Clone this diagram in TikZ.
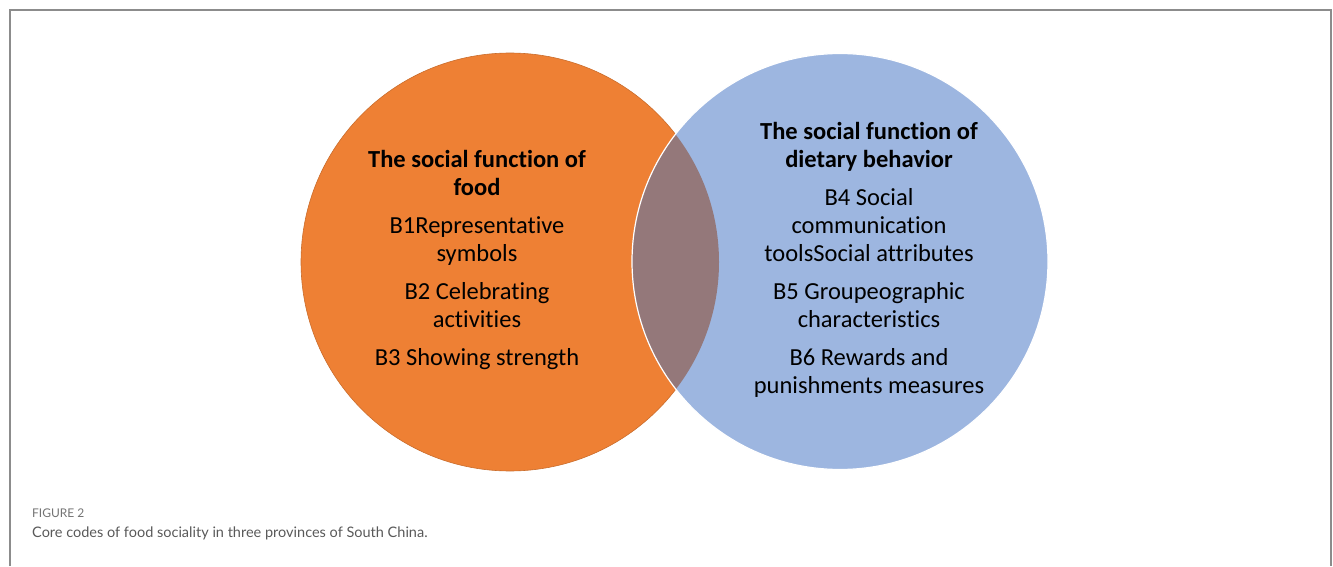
\documentclass[tikz,border=0pt]{standalone}
\usepackage{fontspec}
\setmainfont{Carlito}[Ligatures=NoCommon]
\newfontfamily\capfont{Lato}
\usetikzlibrary{positioning}

\definecolor{foodorange}{RGB}{238,128,52}
\definecolor{dietblue}{RGB}{157,182,224}
\definecolor{overlap}{RGB}{148,120,122}
\definecolor{framegray}{RGB}{140,140,140}

\begin{document}
\begin{tikzpicture}[x=1pt,y=1pt,
  set node/.style={circle,inner sep=0pt},
  code text/.style={align=center,font=\fontsize{24.5}{28}\selectfont},
  caption/.style={inner sep=0pt,font=\capfont}]

  \useasboundingbox (0,0) rectangle (1333,566);
  \draw[framegray,line width=1.2pt] (10,0) -- (10,556) -- (1331,556) -- (1331,0);

  \node[set node,minimum size=418pt,fill=foodorange,draw=foodorange!85!black,line width=0.6pt] (food) at (510,304) {};
  \node[set node,minimum size=416pt,fill=dietblue] (diet) at (840,304.5) {};
  \begin{scope}
    \clip (food.center) circle (209pt);
    \fill[overlap] (diet.center) circle (208pt);
  \end{scope}
  \draw[white,line width=1.2pt] (diet.center) circle (208pt);

  \node[code text] (foodcodes) at (477,306)
    {\textbf{The social function of}\\\textbf{food}\\[10pt]
     B1Representative\\symbols\\[10pt]
     B2 Celebrating\\activities\\[10pt]
     B3 Showing strength};
  \node[code text] (dietcodes) at (869,306)
    {\textbf{The social function of}\\\textbf{dietary behavior}\\[10pt]
     B4 Social\\communication\\toolsSocial attributes\\[10pt]
     B5 Groupeographic\\characteristics\\[10pt]
     B6 Rewards and\\punishments measures};

  \node[caption,anchor=base west,text=black!55,font=\capfont\fontsize{12}{14}\selectfont] (figlabel) at (32,49) {FIGURE 2};
  \node[caption,below=20pt of figlabel.base west,anchor=base west,text=black!65,font=\capfont\fontsize{14.5}{17}\selectfont] (captext)
    {Core codes of food sociality in three provinces of South China.};
\end{tikzpicture}
\end{document}
